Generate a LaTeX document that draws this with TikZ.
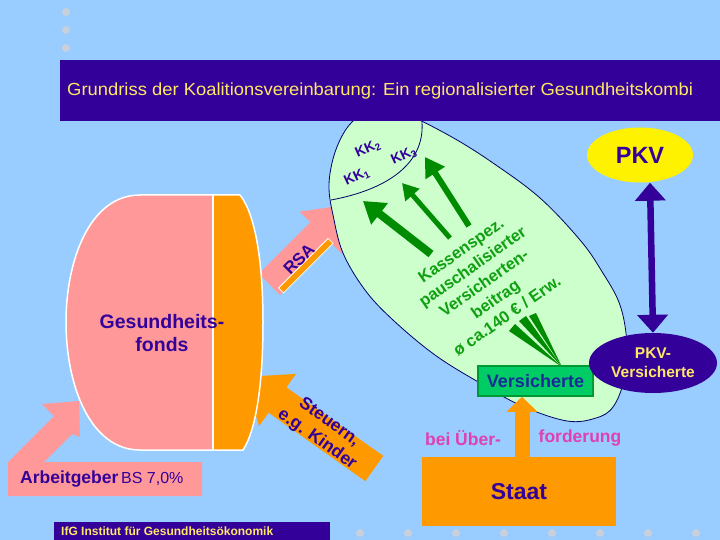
\documentclass[tikz,border=0pt]{standalone}
\usepackage{graphicx}
\usepackage{fontspec}
\setmainfont{Liberation Sans}
\usetikzlibrary{arrows.meta,shapes.geometric}
\definecolor{bgblue}{HTML}{99CCFF}
\definecolor{navy}{HTML}{330099}
\definecolor{titleyel}{HTML}{FFE866}
\definecolor{rosa}{HTML}{FF9999}
\definecolor{orng}{HTML}{FF9900}
\definecolor{lgreen}{HTML}{CCFFCC}
\definecolor{dgreen}{HTML}{008C00}
\definecolor{tgreen}{HTML}{11A011}
\definecolor{vgreen}{HTML}{00CC66}
\definecolor{vborder}{HTML}{009933}
\definecolor{vtext}{HTML}{1A2A99}
\definecolor{magenta2}{HTML}{E040B0}
\definecolor{dotgrey}{HTML}{C8D0DC}
\definecolor{ellline}{HTML}{000066}
\newcommand{\myfs}[2]{\fontsize{#1pt}{#2pt}\selectfont}
\begin{document}
\begin{tikzpicture}[x=1pt,y=-1pt,
  kk/.style={inner sep=0pt,font=\myfs{14}{16}\bfseries,text=navy},
  purplelbl/.style={inner sep=0pt,text=navy},
  greenarrow/.style={dgreen},
  dot/.style={dotgrey}]
\useasboundingbox (0,0) rectangle (720,540);
\fill[bgblue] (0,0) rectangle (720,540);
\foreach \yy in {12,30,48} \fill[dot] (66,\yy) circle (4);
\foreach \xx in {360,408,...,696} \fill[dot] (\xx,533) circle (4);

% Arbeitgeber block arrow
\fill[rosa] (8,496) -- (8,462) -- (54,416) -- (42,404) -- (79,401) -- (80,437) -- (72,434) -- (44,462) -- (202,462) -- (202,496) -- cycle;

% RSA block arrow
\begin{scope}[shift={(269.4,284.4)},rotate=45]
  \fill[rosa] (0,-15) -- (73,-15) -- (73,-30) -- (113,0) -- (73,30) -- (73,15) -- (0,15) -- cycle;
  \filldraw[fill=orng,draw=white,line width=0.8pt] (4,9) rectangle (74,16);
\end{scope}

% Steuern block arrow
\begin{scope}[shift={(277.5,400)},rotate=144.7]
  \fill[orng] (-118.6,-15.5) -- (0,-15.5) -- (0,-32) -- (40,0) -- (0,32) -- (0,15.5) -- (-118.6,15.5) -- cycle;
\end{scope}

% Gesundheitsfonds
\fill[rosa] (213,195) -- (140,195) .. controls (90,195) and (66,260) .. (66,322) .. controls (66,385) and (90,450) .. (140,450) -- (213,450) -- cycle;
\fill[orng] (213,195) -- (240,195) .. controls (256,215) and (263,265) .. (263,322) .. controls (263,385) and (256,430) .. (243,450) -- (213,450) -- cycle;
\draw[white,line width=1.5pt] (140,195) -- (240,195) .. controls (256,215) and (263,265) .. (263,322) .. controls (263,385) and (256,430) .. (243,450) -- (140,450) .. controls (90,450) and (66,385) .. (66,322) .. controls (66,260) and (90,195) .. (140,195) -- cycle;
\draw[white,line width=1.5pt] (213,195) -- (213,450);

% big green region
\draw[ellline,line width=0.8pt,fill=lgreen] plot[smooth cycle,tension=0.6] coordinates {
 (352,122) (340,140) (332,163) (329,188) (333,215) (343,253) (365,290) (393,320) (435,355) (480,383) (522,406) (567,421) (596,418) (613,407) (624,380) (627,345) (620,305) (601,270) (580,240) (540,198) (493,163) (450,136) (405,114) (372,108)};

% title bar
\fill[navy] (60,60) rectangle (720,121);
\node[anchor=west,inner sep=0pt,text=titleyel,font=\myfs{17.5}{20}] (title) at (67,91) {\scalebox{1.052}[1]{Grundriss der Koalitionsvereinbarung: Ein regionalisierter Gesundheitskombi}};

% KK cap
\coordinate (kka) at (331,200);
\coordinate (kkb) at (422,122);
\draw[ellline,line width=0.8pt] (kka) .. controls (385,190) and (425,165) .. (kkb);
\node[kk,rotate=25] (kk1) at (357,177) {KK\textsubscript{1}};
\node[kk,rotate=24] (kk2) at (368,149) {KK\textsubscript{2}};
\node[kk,rotate=25] (kk3) at (404,156) {KK\textsubscript{3}};

% green arrows
\coordinate (g1s) at (431,254); \coordinate (g1e) at (363,201);
\coordinate (g2s) at (450,238); \coordinate (g2e) at (402,183);
\coordinate (g3s) at (469,226); \coordinate (g3e) at (425,157);
\draw[greenarrow,line width=8pt,-{Triangle[width=26pt,length=21pt]}] (g1s) -- (g1e);
\draw[greenarrow,line width=5pt,-{Triangle[width=18pt,length=16pt]}] (g2s) -- (g2e);
\draw[greenarrow,line width=6pt,-{Triangle[width=22pt,length=19pt]}] (g3s) -- (g3e);

\node[inner sep=0pt,font=\myfs{16.5}{20}\bfseries,text=tgreen,align=center,rotate=35] (beitrag) at (484,283) {Kassenspez.\\pauschalisierter\\Versicherten-\\beitrag\\ø ca.140 € / Erw.};

% wedges from Versicherte
\coordinate (vtip) at (562,367);
\fill[dgreen] (vtip) -- (509,331) -- (515,324) -- cycle;
\fill[dgreen] (vtip) -- (519,321) -- (526,316) -- cycle;
\fill[dgreen] (vtip) -- (529,316) -- (536,313) -- cycle;

\node[draw=vborder,line width=1.5pt,fill=vgreen,minimum width=115pt,minimum height=30pt,inner sep=0pt,font=\myfs{18}{20}\bfseries,text=vtext] (vers) at (535.5,381) {Versicherte};

% Staat
\node[fill=orng,minimum width=194pt,minimum height=69pt,inner sep=0pt,font=\myfs{23}{25}\bfseries,text=navy] (staat) at (519,491.5) {Staat};
\draw[orng,line width=15pt,-{Triangle[width=30pt,length=15pt]}] ([xshift=3pt]staat.north) -- ([xshift=3pt]staat.north |- vers.south);
\node[inner sep=0pt,font=\myfs{17.5}{20}\bfseries,text=magenta2] (bei) at (463,438) {bei Über-};
\node[inner sep=0pt,font=\myfs{17.5}{20}\bfseries,text=magenta2] (ford) at (580,438) {forderung};

% PKV
\node[ellipse,fill=yellow,minimum width=106pt,minimum height=55pt,inner sep=0pt,font=\myfs{23.5}{25}\bfseries,text=navy] (pkv) at (640,155) {PKV};
\node[ellipse,fill=navy,minimum width=128pt,minimum height=60pt,inner sep=0pt,align=center,font=\myfs{15.5}{19}\bfseries,text=titleyel] (pkvv) at (653,363) {PKV-\\Versicherte};
\draw[navy,line width=6.5pt,{Triangle[width=30pt,length=18pt]}-{Triangle[width=30pt,length=18pt]}] (pkvv.north) -- ([xshift=10pt]pkv.south);

% footer
\fill[navy] (54,522) rectangle (330,540);
\node[anchor=west,inner sep=0pt,font=\myfs{12}{14}\bfseries,text=titleyel] (ifg) at (61,531) {IfG Institut für Gesundheitsökonomik};

% labels on block arrows
\node[purplelbl,font=\myfs{17}{20}\bfseries,rotate=45] (rsa) at (299,259) {RSA};
\node[purplelbl,font=\myfs{17.5}{21}\bfseries,rotate=-35.3,align=center] (steuern) at (323,431) {Steuern,\\e.g. Kinder};
\node[purplelbl,anchor=west] (ag) at (20,479) {{\myfs{17.5}{20}\bfseries Arbeitgeber} {\myfs{16}{20}BS 7,0\%}};
\node[purplelbl,font=\myfs{19.5}{23}\bfseries,align=center] (fonds) at (162,333) {Gesundheits-\\fonds};
\end{tikzpicture}
\end{document}
